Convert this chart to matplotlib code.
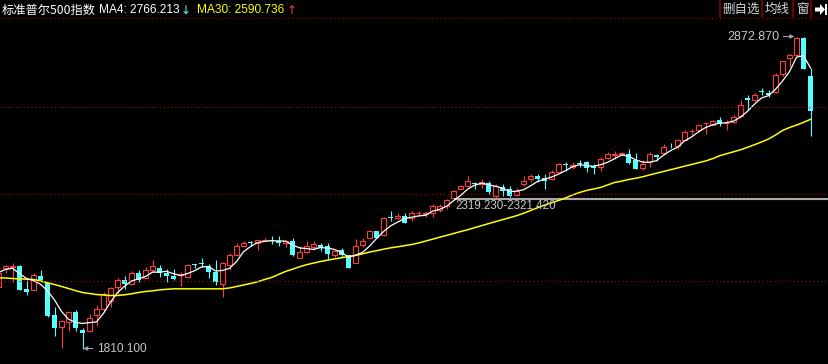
"""
plot.py  —  S&P 500 daily candlestick chart, dark terminal style.
"""

import matplotlib
matplotlib.use("Agg")
import matplotlib.pyplot as plt
import matplotlib.patches as mpatches
import matplotlib.transforms as mtrans
from matplotlib.lines import Line2D
import numpy as np
import pandas as pd

# ── Data ─────────────────────────────────────────────────────────────────────

opens = [2018, 2086, 2088, 2090, 2012, 2011, 2056, 2034, 1923, 1885,
         1902, 1934, 1872, 1869, 1925, 1945, 1971, 2019, 2045, 2031,
         2068, 2050, 2078, 2085, 2068, 2057, 2060, 2053, 2096, 2100,
         2090, 2072, 2031, 2093, 2130, 2161, 2173, 2169, 2176, 2179,
         2176, 2168, 2178, 2118, 2139, 2156, 2162, 2158, 2127, 2147,
         2129, 2101, 2164, 2186, 2209, 2198, 2257, 2256, 2263, 2256,
         2271, 2270, 2271, 2282, 2296, 2322, 2353, 2363, 2372, 2372,
         2375, 2328, 2360, 2355, 2334, 2371, 2386, 2399, 2391, 2388,
         2411, 2437, 2428, 2440, 2444, 2433, 2429, 2459, 2470, 2473,
         2474, 2453, 2424, 2447, 2469, 2475, 2503, 2499, 2521, 2550,
         2555, 2577, 2573, 2587, 2577, 2583, 2601, 2663, 2655, 2686,
         2680, 2683, 2746, 2800, 2810, 2867, 2740]
highs = [2076, 2095, 2101, 2093, 2042, 2068, 2078, 2035, 1950, 1906,
         1938, 1943, 1879, 1926, 1958, 2003, 2018, 2050, 2056, 2073,
         2079, 2087, 2110, 2096, 2082, 2082, 2070, 2098, 2099, 2118,
         2099, 2110, 2106, 2134, 2168, 2176, 2176, 2181, 2186, 2192,
         2192, 2180, 2186, 2161, 2176, 2176, 2170, 2168, 2147, 2152,
         2130, 2182, 2188, 2214, 2212, 2258, 2277, 2271, 2272, 2280,
         2278, 2280, 2303, 2303, 2319.23, 2350, 2367, 2399, 2379, 2388,
         2380, 2371, 2371, 2365, 2357, 2397, 2405, 2406, 2405, 2419,
         2441, 2445, 2445, 2453, 2450, 2440, 2464, 2479, 2482, 2479,
         2491, 2475, 2453, 2481, 2473, 2507, 2510, 2525, 2554, 2558,
         2576, 2583, 2589, 2597, 2589, 2606, 2658, 2672, 2680, 2697,
         2692, 2748, 2791, 2814, 2872.87, 2870, 2765]
lows = [2015, 2069, 2038, 2008, 1993, 2008, 2040, 1917, 1854, 1813,
        1869, 1871, 1810.1, 1868, 1888, 1936, 1953, 1993, 2013, 2025,
        2036, 2049, 2070, 2053, 2036, 2042, 2023, 2050, 2085, 2087,
        2052, 2025, 1987, 2076, 2127, 2158, 2158, 2146, 2175, 2167,
        2158, 2155, 2125, 2117, 2134, 2144, 2141, 2116, 2122, 2121,
        2083, 2100, 2155, 2185, 2185, 2195, 2246, 2252, 2236, 2244,
        2263, 2258, 2257, 2274, 2284, 2321.42, 2352, 2360, 2352, 2356,
        2338, 2322, 2331, 2325, 2331, 2365, 2377, 2377, 2353, 2385,
        2407, 2416, 2420, 2428, 2410, 2406, 2415, 2456, 2457, 2468,
        2439, 2422, 2418, 2428, 2448, 2469, 2494, 2490, 2519, 2539,
        2548, 2542, 2570, 2567, 2556, 2579, 2598, 2624, 2652, 2675,
        2668, 2681, 2740, 2768, 2808, 2762, 2533]
closes = [2069, 2090, 2091, 2011, 2003, 2060, 2043, 1920, 1880, 1903,
          1936, 1879, 1864, 1915, 1945, 1996, 2017, 2045, 2031, 2068,
          2045, 2078, 2090, 2068, 2056, 2046, 2064, 2096, 2094, 2098,
          2070, 2035, 2101, 2127, 2161, 2171, 2171, 2180, 2180, 2177,
          2170, 2177, 2127, 2138, 2160, 2166, 2152, 2131, 2141, 2127,
          2084, 2161, 2178, 2212, 2188, 2256, 2255, 2263, 2238, 2273,
          2273, 2272, 2294, 2297, 2315, 2348, 2365, 2382, 2370, 2376,
          2343, 2362, 2345, 2329, 2348, 2382, 2398, 2388, 2380, 2411,
          2437, 2435, 2435, 2438, 2425, 2425, 2456, 2472, 2473, 2476,
          2441, 2423, 2440, 2474, 2463, 2498, 2502, 2519, 2549, 2552,
          2572, 2578, 2586, 2575, 2578, 2600, 2640, 2655, 2675, 2684,
          2672, 2742, 2788, 2811, 2869, 2763, 2618.5]
ma30 = [2051.0, 2050.3, 2048.6, 2047.6, 2046.2, 2045.2, 2040.1, 2034.0, 2028.2, 2021.4,
        2014.6, 2007.1, 2000.9, 1997.5, 1994.1, 1992.4, 1990.7, 1990.7, 1993.1, 1996.5,
        2000.9, 2004.4, 2006.7, 2009.8, 2011.8, 2013.5, 2013.5, 2013.5, 2013.5, 2013.5,
        2013.5, 2013.5, 2013.5, 2016.3, 2021.4, 2026.5, 2031.6, 2037.4, 2045.2, 2052.0,
        2062.3, 2072.5, 2080.3, 2088.5, 2095.6, 2101.1, 2106.5, 2111.0, 2115.4, 2119.1,
        2123.6, 2127.0, 2132.8, 2138.5, 2143.3, 2148.4, 2152.9, 2156.6, 2160.4, 2164.4,
        2169.5, 2176.0, 2182.5, 2189.0, 2195.4, 2201.9, 2208.4, 2214.5, 2221.6, 2228.5,
        2235.6, 2242.4, 2248.9, 2255.7, 2262.5, 2270.7, 2280.2, 2289.4, 2298.6, 2306.5,
        2314.3, 2322.8, 2333.0, 2341.5, 2348.4, 2353.5, 2358.6, 2367.1, 2375.6, 2380.0,
        2385.8, 2389.9, 2395.0, 2401.2, 2407.3, 2413.1, 2419.2, 2425.0, 2431.1, 2436.9,
        2443.0, 2448.8, 2456.7, 2466.6, 2473.4, 2480.2, 2487.0, 2495.5, 2504.4, 2513.6,
        2523.8, 2537.4, 2552.7, 2562.9, 2571.1, 2580.6, 2590.7]

TITLE    = "标准普尔500指数"
MA4_TXT  = "MA4: 2766.213"
MA30_TXT = "MA30: 2590.736"
HI_LABEL = "2872.870"
LO_LABEL = "1810.100"
GAP_LO, GAP_HI = 2319.23, 2321.42
GAP_LABEL = "2319.230-2321.420"
BUTTONS = ["删自选", "均线", "窗"]

# ── Style ────────────────────────────────────────────────────────────────────

W, H = 829, 364
RED, CYAN, YELLOW = "#ff3c3c", "#54ffff", "#ffff00"
GRID = "#b40000"
LBL = "#c8c8c8"
FONT = ["Liberation Sans", "Noto Sans CJK SC", "DejaVu Sans"]
plt.rcParams["font.family"] = FONT

df = pd.DataFrame({"open": opens, "high": highs, "low": lows, "close": closes, "ma30": ma30})
df["ma4"] = df["close"].rolling(4, min_periods=1).mean()
x = np.arange(len(df))

fig = plt.figure(figsize=(W / 100, H / 100), dpi=100, facecolor="black")
ax = fig.add_axes([0, 0, 1, 1])
ax.set_facecolor("black")
ax.axis("off")
ax.set_xlim(0.214, 118.64)
ax.set_ylim(1757.4, 2997.2)

# pixel transform (x right, y down) for header decorations
px = mtrans.Affine2D().scale(1 / W, -1 / H).translate(0, 1) + fig.transFigure

# dotted grid lines and header separator
for yy in [18, 107, 194, 281]:
    fig.add_artist(Line2D([0, W], [yy, yy], transform=px, color=GRID,
                          lw=0.8, ls=(0, (1, 2.5))))

# ── Candles ──────────────────────────────────────────────────────────────────

bw = 0.62
for i, r in df.iterrows():
    if r.close >= r.open:
        top, bot = r.close, r.open
        ax.vlines(i, top, r.high, color=RED, lw=0.8)
        ax.vlines(i, r.low, bot, color=RED, lw=0.8)
        ax.add_patch(mpatches.Rectangle((i - bw / 2, bot), bw, top - bot,
                                        facecolor="black", edgecolor=RED, lw=0.8))
    else:
        ax.vlines(i, r.low, r.high, color=CYAN, lw=0.8)
        h = max(r.open - r.close, 2.5)
        ax.add_patch(mpatches.Rectangle((i - bw / 2 - 0.07, r.close), bw + 0.14, h,
                                        facecolor=CYAN, edgecolor="none"))

ax.plot(x, df["ma30"], color=YELLOW, lw=1.1)
ax.plot(x, df["ma4"], color="white", lw=0.9)

# gap line
i_gap = 65
ax.fill_between([i_gap, 120], GAP_LO, GAP_HI, color="#a8a8a8", lw=0.8)
ax.text(i_gap + 0.3, GAP_LO - 4, GAP_LABEL, color=LBL, fontsize=8.4,
        ha="left", va="top")

# high / low markers
i_hi = int(np.argmax(highs))
i_lo = int(np.argmin(lows))
ax.annotate(HI_LABEL, xy=(i_hi - 0.3, max(highs)), xytext=(-11, 0),
            textcoords="offset points", ha="right", va="center",
            color=LBL, fontsize=9,
            arrowprops=dict(arrowstyle="-|>", color="#a0a0a0", lw=0.8,
                            mutation_scale=6, shrinkA=1, shrinkB=0))
ax.annotate(LO_LABEL, xy=(i_lo + 0.1, min(lows)), xytext=(10, 0),
            textcoords="offset points", ha="left", va="center",
            color=LBL, fontsize=8.6,
            arrowprops=dict(arrowstyle="-|>", color="#a0a0a0", lw=0.8,
                            mutation_scale=6, shrinkA=1, shrinkB=0))

# ── Header ───────────────────────────────────────────────────────────────────

fig.text(2 / W, 1 - 10 / H, TITLE, color="white", fontsize=8.8, va="center",
         family=["Noto Sans CJK SC", "DejaVu Sans"])
fig.text(99 / W, 1 - 10 / H, MA4_TXT, color="white", fontsize=8.6, va="center")
fig.text(181 / W, 1 - 10 / H, "↓", color=CYAN, fontsize=8.6, va="center",
         family=["DejaVu Sans"])
fig.text(197 / W, 1 - 10 / H, MA30_TXT, color=YELLOW, fontsize=8.6, va="center")
fig.text(287 / W, 1 - 10 / H, "↑", color=RED, fontsize=8.6, va="center",
         family=["DejaVu Sans"])

# buttons top right
edges = [720, 762, 793, 811]
for e in edges:
    fig.add_artist(Line2D([e, e], [0, 17], transform=px, color="#800000", lw=1.2))
for lab, a, b in zip(BUTTONS, edges[:-1], edges[1:]):
    fig.text((a + b) / 2 / W, 1 - 9 / H, lab, color="#d8d8d8", fontsize=9,
             ha="center", va="center", family=["Noto Sans CJK SC", "DejaVu Sans"])
icon = [(815, 7.5), (820, 7.5), (820, 4), (825, 9.5), (820, 15), (820, 11.5), (815, 11.5)]
fig.add_artist(mpatches.Polygon(icon, closed=True, transform=px, color="white", lw=0))
fig.add_artist(mpatches.Rectangle((825.5, 4), 2, 11, transform=px, color="white", lw=0))

plt.savefig("out.png", dpi=100, facecolor="black")
